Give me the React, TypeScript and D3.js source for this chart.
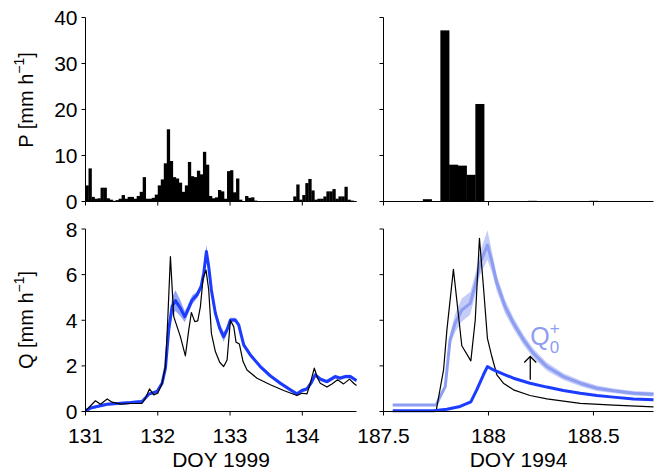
import React from "react";
import * as d3 from "d3";

// Hourly precipitation, DOY 1999 starting at 131.0 (one value per hour)
const P1999 = [
  3.5, 7.2, 1.0, 0.6, 0.7, 3.0, 3.0, 0.7, 0.4, 0.15, 0.3, 0.6, 1.4, 0.6, 1.0, 1.0,
  0.6, 1.2, 2.1, 5.3, 0.6, 0.6, 0.8, 1.5, 3.5, 4.8, 8.3, 15.7, 8.8, 5.3, 5.0, 4.1,
  2.1, 3.5, 8.6, 5.5, 5.3, 6.7, 5.9, 10.8, 8.0, 1.2, 0.7, 0.9, 2.5, 2.2, 0.6, 6.6,
  6.8, 2.0, 5.0, 0.4, 0.1, 1.2, 0.8, 0.9, 0.2, 0.1, 0.05, 0.05, 0.1, 0.05, 0.05, 0.05,
  0.1, 0.05, 0.05, 0.1, 0.1, 1.1, 3.7, 0.4, 1.4, 4.0, 4.9, 2.4, 0.4, 0.6, 0.6, 1.1,
  2.2, 2.2, 2.7, 0.6, 1.1, 1.1, 3.2, 0.4, 0.2, 0.1,
];
// Hourly precipitation, DOY 1994, hour k centred at 187.5 + k/24
const P1994 = [
  0, 0, 0, 0, 0, 0.5, 0, 37.2, 8.0, 7.8, 5.8, 21.2, 0, 0, 0, 0,
  0, 0.15, 0, 0, 0, 0, 0, 0, 0.15, 0, 0, 0, 0, 0, 0,
];

// Observed discharge 1999
const obs99Day = [
  131.0, 131.06, 131.138, 131.207, 131.3, 131.369, 131.484, 131.622, 131.783, 131.83,
  131.885, 131.945, 132.0, 132.06, 132.106, 132.138, 132.175, 132.221, 132.313, 132.382,
  132.429, 132.465, 132.512, 132.553, 132.59, 132.627, 132.668, 132.705, 132.742, 132.797,
  132.857, 132.912, 132.959, 133.005, 133.051, 133.083, 133.129, 133.18, 133.235, 133.373,
  133.558, 133.742, 133.926, 133.995, 134.065, 134.111, 134.166, 134.212, 134.249, 134.341,
  134.41, 134.488, 134.571, 134.654, 134.71, 134.75,
];
const obs99Q = [
  0.04, 0.22, 0.47, 0.32, 0.55, 0.41, 0.32, 0.35, 0.36, 0.58,
  0.99, 0.73, 0.8, 1.24, 1.97, 4.01, 6.79, 4.16, 3.28, 2.44,
  3.58, 4.34, 3.94, 3.97, 4.6, 5.84, 6.2, 5.33, 3.43, 2.63,
  2.16, 1.97, 2.26, 3.99, 3.72, 3.04, 2.96, 2.19, 1.82, 1.46,
  1.17, 0.92, 0.7, 0.8, 0.77, 1.24, 1.9, 1.46, 1.24, 1.07,
  1.21, 1.39, 1.21, 1.42, 1.24, 1.14,
];
// Modelled discharge 1999 with half-width of uncertainty band
const sim99Day = [
  131.0, 131.069, 131.161, 131.3, 131.484, 131.622, 131.783, 131.876, 131.991, 132.06,
  132.106, 132.152, 132.198, 132.244, 132.313, 132.373, 132.406, 132.475, 132.544, 132.599,
  132.636, 132.673, 132.705, 132.742, 132.797, 132.857, 132.912, 132.959, 133.005, 133.074,
  133.12, 133.189, 133.281, 133.419, 133.558, 133.696, 133.834, 133.926, 133.995, 134.065,
  134.12, 134.18, 134.249, 134.341, 134.456, 134.525, 134.594, 134.664, 134.733, 134.75,
];
const sim99Q = [
  0.03, 0.15, 0.22, 0.32, 0.36, 0.39, 0.44, 0.76, 0.88, 1.24,
  1.9, 3.58, 4.6, 4.86, 4.53, 4.16, 4.38, 4.89, 5.11, 5.47,
  6.06, 7.01, 6.35, 5.33, 4.31, 3.65, 3.28, 3.58, 4.01, 4.01,
  3.8, 2.92, 2.48, 1.97, 1.56, 1.24, 0.95, 0.77, 0.92, 0.99,
  1.24, 1.61, 1.42, 1.31, 1.53, 1.46, 1.53, 1.53, 1.39, 1.36,
];
const sim99Band = [
  0.06, 0.06, 0.06, 0.06, 0.06, 0.06, 0.06, 0.06, 0.06, 0.06,
  0.08, 0.2, 0.4, 0.45, 0.35, 0.25, 0.2, 0.2, 0.15, 0.15,
  0.2, 0.3, 0.2, 0.15, 0.15, 0.2, 0.22, 0.15, 0.1, 0.1,
  0.08, 0.08, 0.08, 0.08, 0.08, 0.08, 0.08, 0.08, 0.08, 0.08,
  0.08, 0.08, 0.08, 0.08, 0.08, 0.08, 0.08, 0.08, 0.08, 0.08,
];

// Observed discharge 1994
const obs94Day = [
  187.544, 187.751, 187.786, 187.802, 187.833, 187.873, 187.916, 187.937, 187.957, 187.976,
  187.995, 188.016, 188.04, 188.071, 188.119, 188.198, 188.278, 188.437, 188.595, 188.786,
];
const obs94Q = [
  0.01, 0.04, 1.82, 3.58, 6.23, 2.88, 2.22, 4.01, 7.59, 5.47,
  3.21, 2.41, 1.61, 1.24, 0.95, 0.7, 0.55, 0.36, 0.28, 0.2,
];
// Modelled Q0+ 1994 with band half-width
const q0pDay = [
  187.544, 187.751, 187.77, 187.794, 187.817, 187.841, 187.873, 187.913, 187.937, 187.96,
  187.995, 188.016, 188.04, 188.079, 188.119, 188.167, 188.214, 188.278, 188.357, 188.437,
  188.516, 188.595, 188.69, 188.786,
];
const q0pQ = [
  0.29, 0.29, 0.66, 1.09, 3.14, 3.87, 4.45, 4.74, 5.55, 6.5,
  7.3, 6.57, 5.62, 4.6, 3.87, 3.14, 2.55, 1.97, 1.53, 1.24,
  1.02, 0.91, 0.8, 0.76,
];
const q0pBand = [
  0.04, 0.04, 0.05, 0.08, 0.25, 0.4, 0.5, 0.5, 0.45, 0.5,
  0.65, 0.45, 0.35, 0.3, 0.25, 0.22, 0.2, 0.18, 0.15, 0.13,
  0.12, 0.1, 0.1, 0.1,
];
// Modelled Q0 1994
const q0Day = [
  187.544, 187.738, 187.802, 187.865, 187.916, 187.944, 187.976, 187.995, 188.024, 188.071,
  188.119, 188.198, 188.278, 188.357, 188.437, 188.516, 188.595, 188.69, 188.786,
];
const q0Q = [
  0.03, 0.03, 0.1, 0.22, 0.42, 0.95, 1.61, 1.97, 1.82, 1.64,
  1.46, 1.24, 1.07, 0.92, 0.8, 0.7, 0.63, 0.55, 0.51,
];

const ticksL = [131, 132, 133, 134];
const ticksR = [187.5, 188, 188.5];
const ticksP = [0, 10, 20, 30, 40];
const ticksQ = [0, 2, 4, 6, 8];
const arrowDay = 188.199;
const arrowFrom = 1.39;
const arrowTo = 2.41;

const FONT = "'Liberation Sans', Arial, Helvetica, sans-serif";
const BLUE = "#1b3cff";
const LBLUE = "#8d9df2";
const LBAND = "#c4ccf8";
const DBAND = "#93a3fb";

export default function App() {
  const xL = d3.scaleLinear().domain([131, 134.75]).range([85.5, 356.5]);
  const xR = d3.scaleLinear().domain([187.5, 188.786]).range([383.5, 653.5]);
  const yP = d3.scaleLinear().domain([0, 40]).range([201.5, 17.5]);
  const yQ = d3.scaleLinear().domain([0, 8]).range([411.5, 229]);

  const lineFn = (xs: any, days: number[], qs: number[]) =>
    d3.line<number>().x((_, i) => xs(days[i])).y((q) => yQ(q))(qs) || "";
  const bandFn = (xs: any, days: number[], qs: number[], hw: number[]) =>
    d3
      .area<number>()
      .x((_, i) => xs(days[i]))
      .y0((q, i) => yQ(Math.max(0, q - hw[i])))
      .y1((q, i) => yQ(q + hw[i]))(qs) || "";

  const axes = (xs: any, ys: any, xt: number[], yt: number[], showX: boolean, showY: boolean) => {
    const [x0, x1] = xs.range();
    const [y0, y1] = ys.range();
    return (
      <g>
        <line x1={x0} x2={x1} y1={y0} y2={y0} stroke="#000" strokeWidth={1} />
        <line x1={x0} x2={x0} y1={y0} y2={y1} stroke="#000" strokeWidth={1} />
        {xt.map((t) => (
          <g key={"x" + t}>
            <line x1={xs(t)} x2={xs(t)} y1={y0} y2={y0 + 4} stroke="#000" />
            {showX && (
              <text x={xs(t)} y={y0 + 31} textAnchor="middle" fontSize={21} fontFamily={FONT}>
                {String(t)}
              </text>
            )}
          </g>
        ))}
        {yt.map((t) => (
          <g key={"y" + t}>
            <line x1={x0 - 4} x2={x0} y1={ys(t)} y2={ys(t)} stroke="#000" />
            {showY && (
              <text x={x0 - 8} y={ys(t) + 7.5} textAnchor="end" fontSize={21} fontFamily={FONT}>
                {String(t)}
              </text>
            )}
          </g>
        ))}
      </g>
    );
  };

  const w99 = xL(131 + 1 / 24) - xL(131);
  const w94 = xR(187.5 + 1 / 24) - xR(187.5);

  return (
    <svg
      width={657}
      height={472}
      style={{ position: "fixed", left: 0, top: 0, background: "#fff" }}
      fontFamily={FONT}
    >
      <rect width={657} height={472} fill="#fff" />
      {/* precipitation bars */}
      {P1999.map((v, i) => (
        <rect
          key={"a" + i}
          x={xL(131 + i / 24)}
          y={yP(v)}
          width={w99 + 0.3}
          height={yP(0) - yP(v)}
          fill="#000"
        />
      ))}
      {P1994.map((v, k) =>
        v > 0 ? (
          <rect
            key={"b" + k}
            x={xR(187.5 + k / 24) - w94 / 2}
            y={yP(v)}
            width={w94 + 0.3}
            height={yP(0) - yP(v)}
            fill="#000"
          />
        ) : null
      )}
      {axes(xL, yP, ticksL, ticksP, false, true)}
      {axes(xR, yP, ticksR, ticksP, false, false)}

      {/* discharge 1999 */}
      <path d={bandFn(xL, sim99Day, sim99Q, sim99Band)} fill={DBAND} />
      <path d={lineFn(xL, sim99Day, sim99Q)} fill="none" stroke={BLUE} strokeWidth={3} strokeLinejoin="round" />
      <path d={lineFn(xL, obs99Day, obs99Q)} fill="none" stroke="#000" strokeWidth={1.2} strokeLinejoin="round" />

      {/* discharge 1994 */}
      <path d={bandFn(xR, q0pDay, q0pQ, q0pBand)} fill={LBAND} />
      <path d={lineFn(xR, q0pDay, q0pQ)} fill="none" stroke={LBLUE} strokeWidth={3} strokeLinejoin="round" />
      <path d={lineFn(xR, obs94Day, obs94Q)} fill="none" stroke="#000" strokeWidth={1.2} strokeLinejoin="round" />
      <path d={lineFn(xR, q0Day, q0Q)} fill="none" stroke={BLUE} strokeWidth={3} strokeLinejoin="round" />

      {/* arrow */}
      <line x1={xR(arrowDay)} x2={xR(arrowDay)} y1={yQ(arrowFrom)} y2={yQ(arrowTo)} stroke="#000" strokeWidth={1.3} />
      <polyline
        points={`${xR(arrowDay) - 6},${yQ(arrowTo) + 6} ${xR(arrowDay)},${yQ(arrowTo)} ${xR(arrowDay) + 6},${yQ(arrowTo) + 6}`}
        fill="none"
        stroke="#000"
        strokeWidth={1.3}
      />
      <text x={xR(arrowDay)} y={yQ(2.9)} fontSize={25} fill={LBLUE} fontFamily={FONT}>
        Q
        <tspan fontSize={17} dy={8}>0</tspan>
        <tspan fontSize={17} dx={-9.5} dy={-19}>+</tspan>
      </text>

      {axes(xL, yQ, ticksL, ticksQ, true, true)}
      {axes(xR, yQ, ticksR, ticksQ, true, false)}

      {/* axis titles */}
      <text x={(xL(131) + xL(134.75)) / 2} y={467} textAnchor="middle" fontSize={21}>
        DOY 1999
      </text>
      <text x={(xR(187.5) + xR(188.786)) / 2} y={467} textAnchor="middle" fontSize={21}>
        DOY 1994
      </text>
      <text transform="translate(33,100) rotate(-90)" textAnchor="middle" fontSize={20}>
        P [mm h<tspan fontSize={14} dy={-9}>−1</tspan>
        <tspan dy={9}>]</tspan>
      </text>
      <text transform="translate(33,320) rotate(-90)" textAnchor="middle" fontSize={20}>
        Q [mm h<tspan fontSize={14} dy={-9}>−1</tspan>
        <tspan dy={9}>]</tspan>
      </text>
    </svg>
  );
}
